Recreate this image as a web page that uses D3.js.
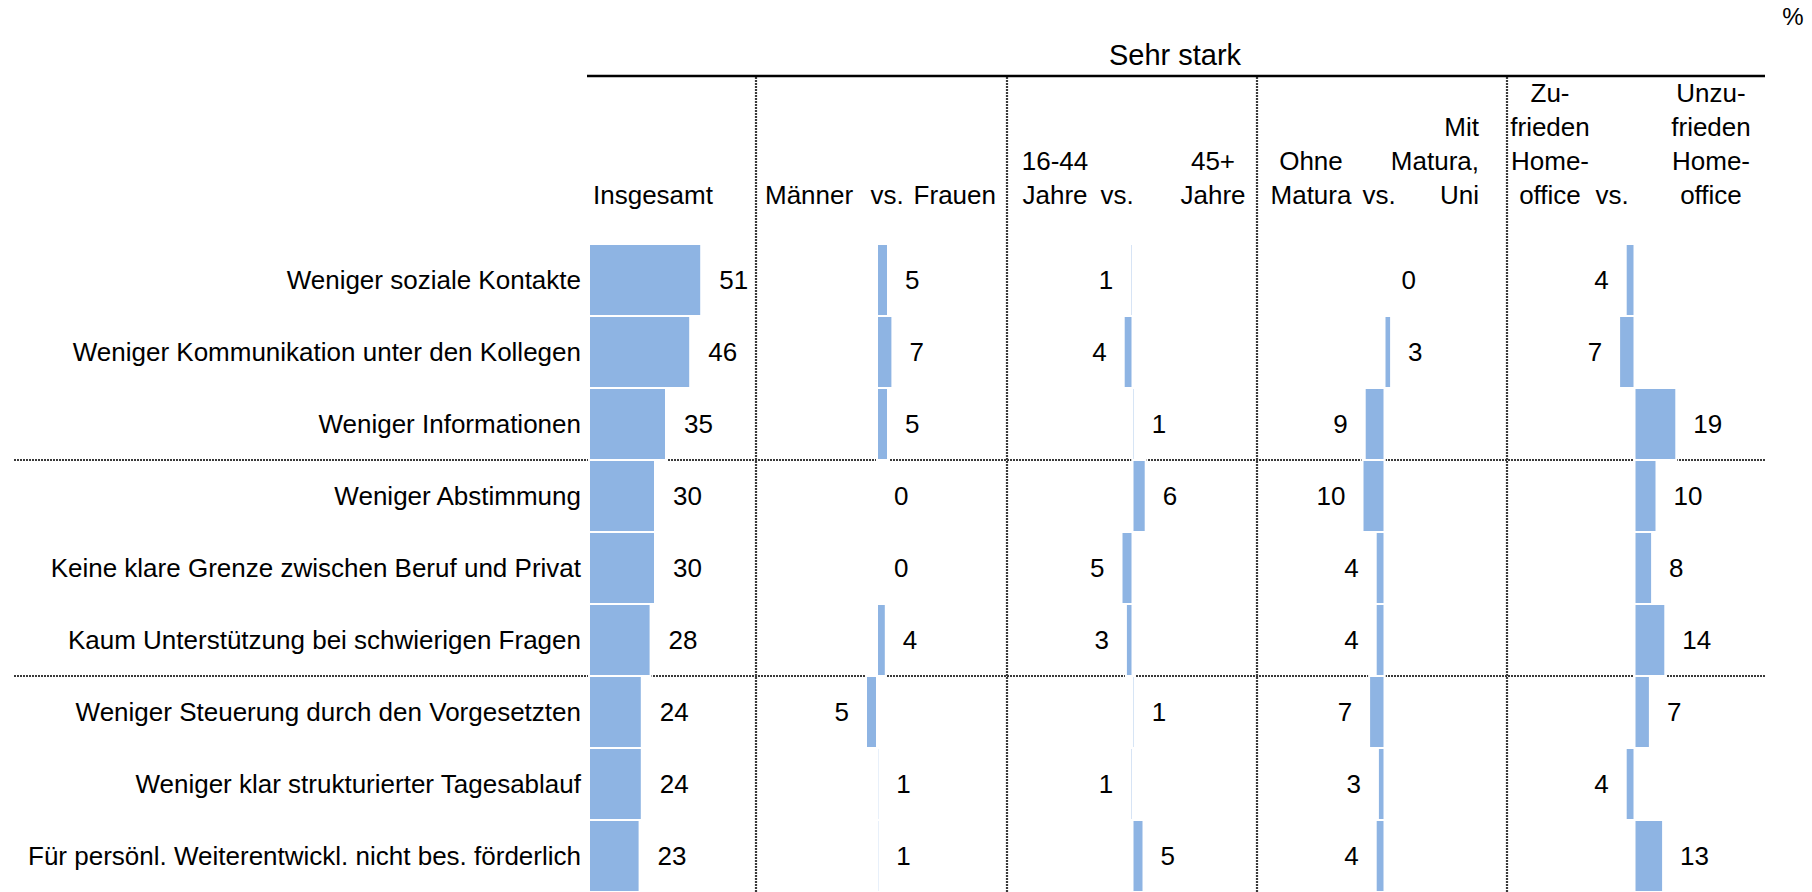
<!DOCTYPE html>
<html>
<head>
<meta charset="utf-8">
<script src="https://cdn.jsdelivr.net/npm/d3@7"></script>
<style>
  body { margin: 0; background: #fff; }
  text { font-family: "Liberation Sans", Arial, sans-serif; fill: #000; }
</style>
</head>
<body>
<svg id="chart" width="1812" height="892"></svg>
<script>
// row labels, top to bottom
var categories = [
  "Weniger soziale Kontakte",
  "Weniger Kommunikation unter den Kollegen",
  "Weniger Informationen",
  "Weniger Abstimmung",
  "Keine klare Grenze zwischen Beruf und Privat",
  "Kaum Unterstützung bei schwierigen Fragen",
  "Weniger Steuerung durch den Vorgesetzten",
  "Weniger klar strukturierter Tagesablauf",
  "Für persönl. Weiterentwickl. nicht bes. förderlich"
];

var insgesamt = [51, 46, 35, 30, 30, 28, 24, 24, 23];

// differences: negative = left group higher, positive = right group higher
var maennerFrauen = [5, 7, 5, 0, 0, 4, -5, 1, 1];
var alter = [-1, -4, 1, 6, -5, -3, 1, -1, 5];
var matura = [0, 3, -9, -10, -4, -4, -7, -3, -4];
var homeoffice = [-4, -7, 19, 10, 8, 14, 7, -4, 13];

var headLeft = [["Männer"], ["16-44", "Jahre"], ["Ohne", "Matura"], ["Zu-", "frieden", "Home-", "office"]];
var headRight = [["Frauen"], ["45+", "Jahre"], ["Mit", "Matura,", "Uni"], ["Unzu-", "frieden", "Home-", "office"]];

var svg = d3.select("#chart");
var barColor = "#8eb4e3";
var fontSize = 26;

var y = d3.scaleBand().domain(categories).range([244, 892]).padding(0);
var x = d3.scaleLinear().domain([0, 50]).range([0, 110]);

var panels = [
  {values: maennerFrauen, axis: 877, left: 765, leftAnchor: "start", vs: 887, right: 996, rightAnchor: "end"},
  {values: alter, axis: 1132.5, left: 1055, leftAnchor: "middle", vs: 1117, right: 1213, rightAnchor: "middle"},
  {values: matura, axis: 1384.5, left: 1311, leftAnchor: "middle", vs: 1379, right: 1479, rightAnchor: "end"},
  {values: homeoffice, axis: 1634.5, left: 1550, leftAnchor: "middle", vs: 1612, right: 1711, rightAnchor: "middle"}
];

// grid lines
var dotted = svg.append("g").attr("stroke", "#3a3a3a").attr("stroke-width", 2.2).attr("stroke-dasharray", "2,1");
[756, 1007, 1257, 1507].forEach(function(lx) {
  dotted.append("line").attr("x1", lx).attr("x2", lx).attr("y1", 77).attr("y2", 892);
});
[3, 6].forEach(function(i) {
  var ly = y(categories[i]);
  dotted.append("line").attr("x1", 14).attr("x2", 1765).attr("y1", ly).attr("y2", ly);
});

svg.append("line")
  .attr("x1", 587).attr("x2", 1765).attr("y1", 76).attr("y2", 76)
  .attr("stroke", "#000").attr("stroke-width", 2.5);

// titles
svg.append("text").attr("x", 1793).attr("y", 25).attr("text-anchor", "middle")
  .style("font-size", "24px").text("%");
svg.append("text").attr("x", 1175).attr("y", 65).attr("text-anchor", "middle")
  .style("font-size", "29px").text("Sehr stark");
svg.append("text").attr("x", 593).attr("y", 204)
  .style("font-size", fontSize + "px").text("Insgesamt");

function headLines(lines, hx, anchor) {
  var t = svg.append("text").attr("text-anchor", anchor).style("font-size", fontSize + "px");
  lines.forEach(function(s, i) {
    t.append("tspan").attr("x", hx).attr("y", 204 - (lines.length - 1 - i) * 34).text(s);
  });
}

panels.forEach(function(p, k) {
  headLines(headLeft[k], p.left, p.leftAnchor);
  headLines(headRight[k], p.right, p.rightAnchor);
  svg.append("text").attr("x", p.vs).attr("y", 204).attr("text-anchor", "middle")
    .style("font-size", fontSize + "px").text("vs.");
});

// row labels
svg.append("g").selectAll("text")
  .data(categories)
  .enter().append("text")
    .attr("x", 581)
    .attr("y", function(d) { return y(d) + y.bandwidth() / 2; })
    .attr("dy", "0.36em")
    .attr("text-anchor", "end")
    .style("font-size", fontSize + "px")
    .text(function(d) { return d; });

// Insgesamt bars
var base = 589;
var g0 = svg.append("g");
g0.selectAll("rect")
  .data(insgesamt)
  .enter().append("rect")
    .attr("x", base)
    .attr("y", function(d, i) { return y(categories[i]); })
    .attr("width", function(d) { return x(d); })
    .attr("height", y.bandwidth())
    .attr("fill", barColor)
    .attr("stroke", "#fff").attr("stroke-width", 2);
g0.selectAll("text")
  .data(insgesamt)
  .enter().append("text")
    .attr("x", function(d) { return base + x(d) + 18; })
    .attr("y", function(d, i) { return y(categories[i]) + y.bandwidth() / 2; })
    .attr("dy", "0.36em")
    .style("font-size", fontSize + "px")
    .text(function(d) { return d; });

// difference panels
panels.forEach(function(p) {
  var g = svg.append("g");
  g.selectAll("rect")
    .data(p.values)
    .enter().append("rect")
      .attr("x", function(d) { return d < 0 ? p.axis - x(-d) : p.axis; })
      .attr("y", function(d, i) { return y(categories[i]); })
      .attr("width", function(d) { return x(Math.abs(d)); })
      .attr("height", y.bandwidth())
      .attr("fill", barColor)
      .attr("stroke", function(d) { return d === 0 ? "none" : "#fff"; })
      .attr("stroke-width", 2);
  g.selectAll("text")
    .data(p.values)
    .enter().append("text")
      .attr("x", function(d) { return d < 0 ? p.axis - x(-d) - 17 : p.axis + x(d) + 17; })
      .attr("y", function(d, i) { return y(categories[i]) + y.bandwidth() / 2; })
      .attr("dy", "0.36em")
      .attr("text-anchor", function(d) { return d < 0 ? "end" : "start"; })
      .style("font-size", fontSize + "px")
      .text(function(d) { return Math.abs(d); });
});
</script>
</body>
</html>
